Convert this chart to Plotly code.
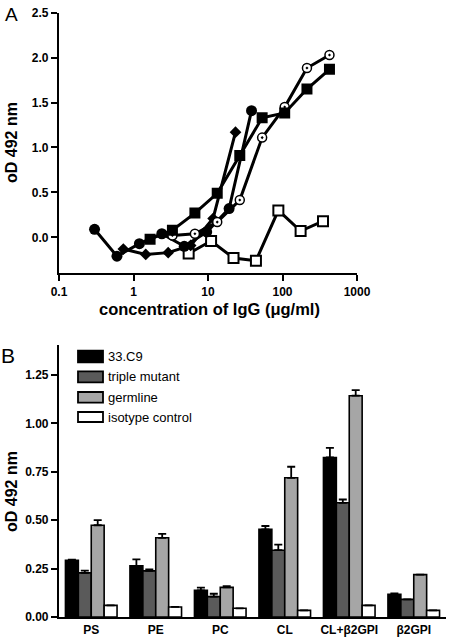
import plotly.graph_objects as go

# ---------------- Panel A data ----------------
fc_x = [0.3, 0.6, 1.2, 2.4, 4.8, 9.6, 19.2, 38.4]
fc_y = [0.09, -0.21, -0.07, 0.04, -0.10, 0.06, 0.32, 1.41]

fs_x = [1.67, 3.33, 6.67, 13.3, 26.7, 53.3, 107, 213, 427]
fs_y = [-0.02, 0.08, 0.27, 0.49, 0.91, 1.33, 1.385, 1.65, 1.87]

fd_x = [0.73, 1.46, 2.92, 5.85, 11.7, 23.4]
fd_y = [-0.13, -0.19, -0.17, -0.09, 0.21, 1.17]

oc_x = [3.33, 6.67, 13.3, 26.7, 53.3, 107, 213, 427]
oc_y = [0.02, 0.04, 0.17, 0.415, 1.11, 1.45, 1.885, 2.03]

os_x = [5.5, 11, 22, 44, 88, 175, 350]
os_y = [-0.18, -0.04, -0.23, -0.26, 0.30, 0.07, 0.18]

a_xticks = [0.1, 1, 10, 100, 1000]
a_xticktext = ["0.1", "1", "10", "100", "1000"]
a_yticks = [0.0, 0.5, 1.0, 1.5, 2.0, 2.5]

# ---------------- Panel B data ----------------
categories = ["PS", "PE", "PC", "CL", "CL+β2GPI", "β2GPI"]
series_names = ["33.C9", "triple mutant", "germline", "isotype control"]
v_33c9 = [0.293, 0.264, 0.138, 0.453, 0.824, 0.117]
e_33c9 = [0.003, 0.034, 0.014, 0.017, 0.050, 0.005]
v_triple = [0.228, 0.238, 0.105, 0.345, 0.590, 0.091]
e_triple = [0.012, 0.008, 0.015, 0.029, 0.017, 0.0]
v_germ = [0.474, 0.409, 0.153, 0.719, 1.143, 0.219]
e_germ = [0.026, 0.020, 0.006, 0.057, 0.029, 0.0]
v_iso = [0.060, 0.052, 0.045, 0.034, 0.060, 0.034]
e_iso = [0.0, 0.0, 0.0, 0.0, 0.0, 0.0]
b_yticks = [0.0, 0.25, 0.5, 0.75, 1.0, 1.25]

FONT = "Liberation Sans, Arial, sans-serif"
fig = go.Figure()

line_w = 3
fig.add_trace(go.Scatter(x=os_x, y=os_y, mode="lines+markers", xaxis="x", yaxis="y",
                         line=dict(color="black", width=line_w),
                         marker=dict(symbol="square", size=10, color="white",
                                     line=dict(color="black", width=2))))
fig.add_trace(go.Scatter(x=fd_x, y=fd_y, mode="lines+markers", xaxis="x", yaxis="y",
                         line=dict(color="black", width=line_w),
                         marker=dict(symbol="diamond", size=9, color="black")))
fig.add_trace(go.Scatter(x=fc_x, y=fc_y, mode="lines+markers", xaxis="x", yaxis="y",
                         line=dict(color="black", width=line_w),
                         marker=dict(symbol="circle", size=11, color="black")))
fig.add_trace(go.Scatter(x=oc_x, y=oc_y, mode="lines+markers", xaxis="x", yaxis="y",
                         line=dict(color="black", width=line_w),
                         marker=dict(symbol="circle-dot", size=9, color="white",
                                     line=dict(color="black", width=1.5))))
fig.add_trace(go.Scatter(x=fs_x, y=fs_y, mode="lines+markers", xaxis="x", yaxis="y",
                         line=dict(color="black", width=line_w),
                         marker=dict(symbol="square", size=11, color="black")))

bar_colors = ["#000000", "#5a5a5a", "#a6a6a6", "#ffffff"]
vals = [v_33c9, v_triple, v_germ, v_iso]
errs = [e_33c9, e_triple, e_germ, e_iso]
for name, v, e, c in zip(series_names, vals, errs, bar_colors):
    fig.add_trace(go.Bar(x=categories, y=v, name=name, xaxis="x2", yaxis="y2",
                         marker=dict(color=c, line=dict(color="black", width=1.6)),
                         error_y=dict(type="data", array=e, arrayminus=[0] * len(e),
                                      symmetric=False, visible=True, color="black",
                                      thickness=1.8, width=4)))

tickfont = dict(family=FONT, size=12, color="black", weight="bold")
axis_common = dict(showline=True, linecolor="black", linewidth=2.2, ticks="outside",
                   ticklen=6, tickwidth=2, tickcolor="black", showgrid=False,
                   zeroline=False, tickfont=tickfont, automargin=False)

W, H = 453, 641
ML, MR, MT, MB = 59, 7, 12, 24
PW, PH = W - ML - MR, H - MT - MB


def px(xp):
    return (xp - ML) / PW


def py(yp):
    return (H - MB - yp) / PH


fig.update_layout(
    width=W, height=H,
    margin=dict(l=ML, r=MR, t=MT, b=MB, autoexpand=False),
    paper_bgcolor="white", plot_bgcolor="white",
    showlegend=False,
    font=dict(family=FONT, color="black"),
    barmode="group", bargap=0.2, bargroupgap=0,
    xaxis=dict(type="log", range=[-1, 3], domain=[0, px(357)], anchor="y",
               tickvals=a_xticks, ticktext=a_xticktext, **axis_common),
    yaxis=dict(range=[-0.4, 2.5], domain=[py(273.3), py(12.7)], anchor="x",
               tickvals=a_yticks, tickformat=".1f", **axis_common),
    xaxis2=dict(type="category", range=[-0.5, 5.5], domain=[0, 1], anchor="y2",
                **{**axis_common, "ticks": ""}),
    yaxis2=dict(range=[0, 1.405], domain=[0, py(345)], anchor="x2",
                tickvals=b_yticks, tickformat=".2f", **axis_common),
)

ann = []
ann.append(dict(text="A", x=px(11), y=py(14), xref="paper", yref="paper",
                showarrow=False, font=dict(size=19, family=FONT), xanchor="center", yanchor="middle"))
ann.append(dict(text="B", x=px(8), y=py(355), xref="paper", yref="paper",
                showarrow=False, font=dict(size=21, family=FONT), xanchor="center", yanchor="middle"))
ann.append(dict(text="oD 492 nm", x=px(11), y=py(143), xref="paper", yref="paper",
                textangle=-90, showarrow=False, xanchor="center", yanchor="middle",
                font=dict(size=16, family=FONT, weight="bold")))
ann.append(dict(text="oD 492 nm", x=px(11), y=py(492), xref="paper", yref="paper",
                textangle=-90, showarrow=False, xanchor="center", yanchor="middle",
                font=dict(size=16, family=FONT, weight="bold")))
ann.append(dict(text="concentration of IgG (μg/ml)", x=px(209), y=py(309), xref="paper",
                yref="paper", showarrow=False, xanchor="center", yanchor="middle",
                font=dict(size=16.5, family=FONT, weight="bold")))

# manual legend
shapes = []
rows = [(350.7, 362.3), (371.3, 382.3), (392, 402.7), (412, 422)]
for (t, b), name, c in zip(rows, series_names, bar_colors):
    shapes.append(dict(type="rect", xref="paper", yref="paper",
                       x0=px(78), x1=px(103), y0=py(b), y1=py(t),
                       fillcolor=c, line=dict(color="black", width=1.8)))
    ann.append(dict(text=name, x=px(106), y=py((t + b) / 2), xref="paper", yref="paper",
                    showarrow=False, xanchor="left", yanchor="middle",
                    font=dict(size=13, family=FONT)))

fig.update_layout(annotations=ann, shapes=shapes)
fig.write_html("out.html", config={"displayModeBar": False},
               post_script="document.body.style.margin='0';document.body.style.overflow='hidden';")
